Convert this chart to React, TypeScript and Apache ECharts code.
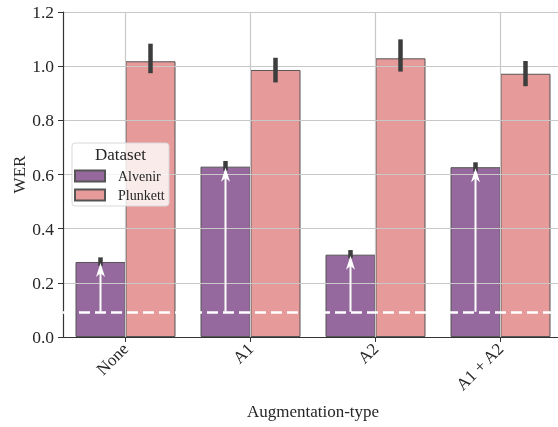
import React, { useEffect, useRef } from "react";
import * as echarts from "echarts";

const categories = ["None", "A1", "A2", "A1 + A2"];
const alvenir = [0.277, 0.629, 0.304, 0.627];
const plunkett = [1.018, 0.986, 1.029, 0.972];
const alvenirCI = [
  [0.262, 0.294],
  [0.614, 0.65],
  [0.291, 0.321],
  [0.61, 0.645],
];
const plunkettCI = [
  [0.974, 1.083],
  [0.94, 1.031],
  [0.98, 1.099],
  [0.926, 1.019],
];
const baseline = 0.093;
const seriesNames = ["Alvenir", "Plunkett"];

const FONT = "Liberation Serif";
const PURPLE = "#95699d";
const PINK = "#e69a99";

export default function App() {
  const ref = useRef<HTMLDivElement>(null);
  useEffect(() => {
    if (!ref.current) return;
    const chart = echarts.init(ref.current, null, { renderer: "svg" });

    const errData: number[][] = [];
    alvenirCI.forEach((ci, i) => errData.push([i, ci[0], ci[1], -1]));
    plunkettCI.forEach((ci, i) => errData.push([i, ci[0], ci[1], 1]));
    const arrowData = alvenir.map((v, i) => [i, baseline, v]);

    chart.setOption({
      animation: false,
      textStyle: { fontFamily: FONT },
      grid: {
        left: 63,
        right: -5,
        top: 12,
        bottom: 90,
        containLabel: false,
        outerBoundsMode: "none",
      },
      legend: {
        data: seriesNames.map((n) => ({ name: n, icon: "rect" })),
        orient: "vertical",
        left: 69,
        top: 164,
        itemWidth: 30,
        itemHeight: 11,
        itemGap: 5,
        z: 20,
        textStyle: { fontFamily: FONT, fontSize: 14, color: "#262626", padding: [0, 0, 0, 8] },
      },
      xAxis: {
        type: "category",
        data: categories,
        z: 3,
        name: "Augmentation-type",
        nameLocation: "middle",
        nameGap: 66,
        nameTextStyle: { fontFamily: FONT, fontSize: 17, color: "#262626" },
        axisLine: { show: true, lineStyle: { color: "#333", width: 1.2 } },
        axisTick: { show: true, alignWithLabel: true, length: 5, lineStyle: { color: "#333" } },
        axisLabel: { rotate: 45, margin: 9, fontFamily: FONT, fontSize: 17, color: "#262626" },
        splitLine: { show: false },
      },
      yAxis: {
        type: "value",
        min: 0,
        max: 1.2,
        interval: 0.2,
        z: 3,
        name: "WER",
        nameLocation: "middle",
        nameGap: 35,
        nameRotate: 90,
        nameMoveOverlap: false,
        nameTextStyle: { fontFamily: FONT, fontSize: 17, color: "#262626" },
        axisLine: { show: true, lineStyle: { color: "#333", width: 1.2 } },
        axisTick: { show: true, length: 5, lineStyle: { color: "#333" } },
        axisLabel: {
          margin: 9,
          fontFamily: FONT,
          fontSize: 17.5,
          color: "#262626",
          formatter: (v: number) => v.toFixed(1),
        },
        splitLine: { show: true, lineStyle: { color: "#c8c8c8", width: 1.2 } },
      },
      series: [
        {
          name: "Alvenir",
          type: "bar",
          data: alvenir,
          barWidth: "40%",
          barGap: "0%",
          itemStyle: { color: PURPLE, borderColor: "#555", borderWidth: 1 },
          z: 2,
        },
        {
          name: "Plunkett",
          type: "bar",
          data: plunkett,
          barWidth: "40%",
          barGap: "0%",
          itemStyle: { color: PINK, borderColor: "#555", borderWidth: 1 },
          z: 2,
        },
        {
          name: "vgrid",
          type: "line",
          data: [],
          z: 3,
          silent: true,
          markLine: {
            silent: true,
            symbol: ["none", "none"],
            label: { show: false },
            lineStyle: { color: "#c8c8c8", width: 1.2, type: "solid" },
            data: categories.map((c) => ({ xAxis: c })),
          },
        },
        {
          name: "errors",
          type: "custom",
          z: 4,
          silent: true,
          data: errData,
          encode: { x: 0, y: [1, 2] },
          renderItem: (params: any, api: any) => {
            const lo = api.coord([api.value(0), api.value(1)]);
            const hi = api.coord([api.value(0), api.value(2)]);
            const band = api.size([1, 0])[0];
            const x = lo[0] + api.value(3) * band * 0.2;
            return {
              type: "line",
              shape: { x1: x, y1: lo[1], x2: x, y2: hi[1] },
              style: { stroke: "#3d3d3d", lineWidth: 4.5 },
            };
          },
        },
        {
          name: "arrows",
          type: "custom",
          z: 5,
          silent: true,
          data: arrowData,
          encode: { x: 0, y: [1, 2] },
          renderItem: (params: any, api: any) => {
            const b = api.coord([api.value(0), api.value(1)]);
            const t = api.coord([api.value(0), api.value(2)]);
            const band = api.size([1, 0])[0];
            const x = b[0] - band * 0.2;
            const tipY = t[1] + 1;
            return {
              type: "group",
              children: [
                {
                  type: "line",
                  shape: { x1: x, y1: b[1], x2: x, y2: tipY + 6 },
                  style: { stroke: "#ffffff", lineWidth: 2 },
                },
                {
                  type: "polygon",
                  shape: {
                    points: [
                      [x, tipY],
                      [x + 4.5, tipY + 14],
                      [x, tipY + 10],
                      [x - 4.5, tipY + 14],
                    ],
                  },
                  style: { fill: "#ffffff" },
                },
              ],
            };
          },
          markLine: {
            silent: true,
            symbol: ["none", "none"],
            label: { show: false },
            lineStyle: { color: "#ffffff", width: 2.5, type: [11, 5] },
            data: [{ yAxis: baseline }],
          },
        },
      ],
      graphic: [
        {
          type: "rect",
          z: 15,
          shape: { x: 72, y: 143, width: 97, height: 63, r: 3 },
          style: { fill: "rgba(255,255,255,0.8)", stroke: "#d9d9d9", lineWidth: 1 },
        },
        {
          type: "text",
          z: 16,
          x: 120.5,
          y: 154,
          style: {
            text: "Dataset",
            fontFamily: FONT,
            fontSize: 17,
            fill: "#262626",
            align: "center",
            verticalAlign: "middle",
          },
        },
      ],
    });
    return () => chart.dispose();
  }, []);
  return (
    <div
      ref={ref}
      style={{ position: "fixed", left: 0, top: 0, width: 558, height: 427 }}
    />
  );
}
